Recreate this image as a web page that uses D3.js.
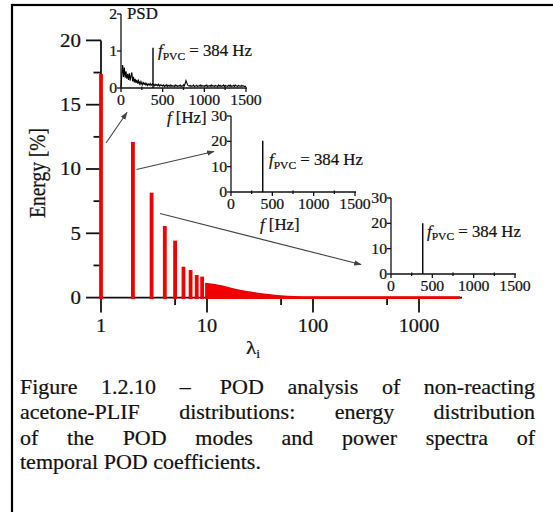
<!DOCTYPE html>
<html><head><meta charset="utf-8">
<script src="https://cdn.jsdelivr.net/npm/d3@7"></script>
<style>body{margin:0;background:#fff} svg{display:block} text{font-family:"Liberation Serif","Times New Roman",serif;fill:#111;stroke:#111;stroke-width:0.22px}</style>
</head><body><svg id="c" width="553" height="512"></svg>
<script>
// ---------------- data ----------------
const modes = [1, 2, 3, 4, 5, 6, 7, 8, 9];
const modeEnergy = [17.4, 12.1, 8.16, 5.57, 4.43, 2.4, 2.15, 1.76, 1.63];
const tailModes = [10, 11, 12, 13, 15, 18, 22, 27, 32, 40, 52, 70, 100, 150, 300, 1000, 2546];
const tailEnergy = [1.16, 1.12, 1.07, 1.02, 0.92, 0.75, 0.6, 0.48, 0.38, 0.28, 0.18, 0.13, 0.1, 0.1, 0.1, 0.1, 0.1];
const yTicks = [0, 5, 10, 15, 20];
const yMinor = [2.5, 7.5, 12.5, 17.5];
const xTicks = [1, 10, 100, 1000];
const xMinor = [5, 50, 500];
const psdFreq = d3.range(0, 1501, 10);
const psdValues = [
  0.02,0.35,0.62,0.3,0.55,0.28,0.45,0.25,0.38,0.22,0.4,0.2,0.33,0.42,0.18,0.3,0.15,0.25,0.14,0.22,
  0.12,0.2,0.11,0.17,0.1,0.16,0.09,0.14,0.1,0.13,0.08,0.12,0.07,0.11,0.08,0.12,0.07,0.1,0.12,0.09,
  0.06,0.1,0.07,0.09,0.06,0.1,0.05,0.09,0.06,0.08,0.05,0.08,0.04,0.07,0.05,0.09,0.04,0.07,0.05,0.08,
  0.04,0.07,0.05,0.06,0.04,0.08,0.05,0.07,0.04,0.06,0.05,0.08,0.04,0.06,0.05,0.09,0.06,0.12,0.2,0.14,
  0.08,0.06,0.05,0.07,0.04,0.06,0.05,0.08,0.04,0.06,0.05,0.07,0.04,0.06,0.05,0.08,0.04,0.07,0.05,0.06,
  0.04,0.07,0.05,0.08,0.04,0.06,0.05,0.07,0.04,0.08,0.05,0.06,0.04,0.07,0.05,0.06,0.04,0.08,0.05,0.07,
  0.04,0.06,0.05,0.08,0.04,0.07,0.05,0.06,0.04,0.07,0.05,0.08,0.04,0.06,0.05,0.07,0.04,0.08,0.05,0.06,
  0.04,0.07,0.05,0.06,0.04,0.07,0.05,0.06,0.04,0.05,0.03];
const pvcFreq = 384;
const pvcPeak = [1.09, 20.2, 20.0];
const insetYMax = [2, 30, 30];
const insetYTicks = [[0, 1, 2], [0, 10, 20, 30], [0, 10, 20, 30]];
const insetXTicks = [0, 500, 1000, 1500];
const insetXMinor = [250, 750, 1250];
const captionLines = [
  ["Figure", "1.2.10", "–\u00a0", "POD", "analysis", "of", "non-reacting"],
  ["acetone-PLIF", "distributions:", "energy", "distribution"],
  ["of", "the", "POD", "modes", "and", "power", "spectra", "of"],
  ["temporal", "POD", "coefficients."]
];

// ---------------- layout ----------------
const svg = d3.select("#c");
const RED = "#f00000";
const x = d3.scaleLog().domain([1, 1000]).range([101, 419]);
const y = d3.scaleLinear().domain([0, 20]).range([297.6, 40.4]);

// frame
svg.append("rect").attr("x", 12).attr("y", 5).attr("width", 700).attr("height", 700)
  .attr("fill", "none").attr("stroke", "#000").attr("stroke-width", 2.2);

function stext(g, str, px, py, size, k, anchor) {
  const t = g.append("text").attr("transform", `translate(${px},${py}) scale(${k},1)`)
    .attr("font-size", size).attr("text-anchor", anchor || "start");
  if (str !== null) t.text(str);
  return t;
}

// main axes
const ax = svg.append("g").attr("stroke", "#111").attr("stroke-width", 1.8);
ax.append("line").attr("x1", x(1)).attr("x2", x(1)).attr("y1", y(0)).attr("y2", y(20));
ax.append("line").attr("x1", x(1)).attr("x2", x(2546)).attr("y1", y(0)).attr("y2", y(0));
ax.selectAll(".yt").data(yTicks).join("line").attr("x1", x(1) - 15).attr("x2", x(1)).attr("y1", d => y(d)).attr("y2", d => y(d));
ax.selectAll(".ym").data(yMinor).join("line").attr("x1", x(1) - 7.5).attr("x2", x(1)).attr("y1", d => y(d)).attr("y2", d => y(d));
ax.selectAll(".xt").data(xTicks).join("line").attr("x1", d => x(d)).attr("x2", d => x(d)).attr("y1", y(0)).attr("y2", y(0) + 15);
ax.selectAll(".xm").data(xMinor).join("line").attr("x1", d => x(d)).attr("x2", d => x(d)).attr("y1", y(0)).attr("y2", y(0) + 7.5);

const lab = svg.append("g");
yTicks.forEach(d => stext(lab, String(d), 81, y(d) + 6.2, 19, 1.1, "end"));
xTicks.forEach(d => stext(lab, String(d), x(d), 332, 18.5, 1.1, "middle"));
// axis titles
lab.append("text").attr("transform", `translate(45,173) scale(1.15,1) rotate(-90)`).attr("font-size", 19.5)
  .attr("text-anchor", "middle").text("Energy [%]");
const lt = stext(lab, null, 253, 354, 19.5, 1.1, "middle");
lt.append("tspan").text("λ");
lt.append("tspan").attr("font-size", 12.5).attr("dy", 4).text("i");

// bars
const bw = 3.8;
svg.append("g").selectAll("rect").data(modes).join("rect")
  .attr("x", (d) => x(d) - bw / 2).attr("width", bw)
  .attr("y", (d, i) => y(modeEnergy[i])).attr("height", (d, i) => y(0) - y(modeEnergy[i]) + 1.5)
  .attr("fill", RED);
const tail = tailModes.map((m, i) => [m, tailEnergy[i]]);
svg.append("path").datum(tail)
  .attr("d", d3.area().x(d => x(d[0])).y0(y(0) + 1.5).y1(d => y(d[1])).curve(d3.curveMonotoneX))
  .attr("fill", RED).attr("transform", `translate(${-bw/2},0)`);

// arrows
const defs = svg.append("defs");
defs.append("marker").attr("id", "ah").attr("viewBox", "0 0 10 10").attr("refX", 9).attr("refY", 5)
  .attr("markerWidth", 7).attr("markerHeight", 7).attr("orient", "auto-start-reverse")
  .append("path").attr("d", "M0,1.5 L10,5 L0,8.5 z").attr("fill", "#444");
const arrows = [[106, 143, 127, 112.5], [136.5, 169.5, 214, 151.5], [160, 213.5, 361, 264.5]];
svg.append("g").selectAll("line").data(arrows).join("line")
  .attr("x1", d => d[0]).attr("y1", d => d[1]).attr("x2", d => d[2]).attr("y2", d => d[3])
  .attr("stroke", "#444").attr("stroke-width", 1.1).attr("marker-end", "url(#ah)");

// insets
const insets = [
  {x0: 121, x1: 246, yb: 88, yt: 14},
  {x0: 231, x1: 355, yb: 192, yt: 116},
  {x0: 391, x1: 515, yb: 274, yt: 198}
];
insets.forEach((c, idx) => {
  const g = svg.append("g");
  const fx = d3.scaleLinear().domain([0, 1500]).range([c.x0, c.x1]);
  const fy = d3.scaleLinear().domain([0, insetYMax[idx]]).range([c.yb, c.yt]);
  const a = g.append("g").attr("stroke", "#111").attr("stroke-width", 1.3);
  a.append("line").attr("x1", fx(0)).attr("x2", fx(0)).attr("y1", fy(0)).attr("y2", fy(insetYMax[idx]));
  a.append("line").attr("x1", fx(0)).attr("x2", fx(1500) + 1).attr("y1", fy(0)).attr("y2", fy(0));
  a.selectAll(".t").data(insetYTicks[idx]).join("line").attr("x1", fx(0) - 4).attr("x2", fx(0)).attr("y1", d => fy(d)).attr("y2", d => fy(d));
  a.selectAll(".xt").data(insetXTicks).join("line").attr("x1", d => fx(d)).attr("x2", d => fx(d)).attr("y1", fy(0)).attr("y2", fy(0) + 4);
  a.selectAll(".xm").data(insetXMinor).join("line").attr("x1", d => fx(d)).attr("x2", d => fx(d)).attr("y1", fy(0) - 1.5).attr("y2", fy(0) + 2);
  insetYTicks[idx].forEach(d => stext(g, String(d), fx(0) - 4, fy(d) + 5, 15, 1.05, "end"));
  insetXTicks.forEach(d => stext(g, String(d), fx(d), fy(0) + 17, 15, 1.05, "middle"));
  if (idx === 0) {
    g.append("path").datum(psdFreq.map((f, i) => [f, psdValues[i]]))
      .attr("d", d3.line().x(d => fx(d[0])).y(d => fy(d[1])))
      .attr("fill", "none").attr("stroke", "#000").attr("stroke-width", 1.1);
    stext(g, "PSD", fx(0) + 6, fy(2) + 5, 16, 1.05, "start");
  }
  g.append("line").attr("x1", fx(pvcFreq)).attr("x2", fx(pvcFreq)).attr("y1", fy(0)).attr("y2", fy(pvcPeak[idx]))
    .attr("stroke", "#000").attr("stroke-width", 1.4);
  const lx = [158, 269, 427][idx], ly = [56, 165, 236.5][idx];
  const t = stext(g, null, lx, ly, 16, 1.05, "start");
  t.append("tspan").attr("font-style", "italic").text("f");
  t.append("tspan").attr("font-size", 11).attr("dy", 3.5).text("PVC");
  t.append("tspan").attr("dy", -3.5).text(" = 384 Hz");
  if (idx < 2) {
    const hx = [167, 260][idx], hy = [123, 230][idx];
    const h = stext(g, null, hx, hy, 16, 1.05, "start");
    h.append("tspan").attr("font-style", "italic").text("f");
    h.append("tspan").text(" [Hz]");
  }
});

// caption (justified)
const capY = [394, 419, 445, 469];
const capG = svg.append("g");
const capK = 1.0, capSize = 22;
captionLines.forEach((words, li) => {
  const nodes = words.map(w => capG.append("text").attr("font-size", capSize).text(w));
  const widths = nodes.map(n => n.node().getComputedTextLength() * capK);
  const total = d3.sum(widths);
  const last = li === captionLines.length - 1;
  const gap = last ? 0.25 * capSize : (535 - 20 - total) / (words.length - 1);
  let cx = 20;
  nodes.forEach((n, i) => {
    n.attr("transform", `translate(${cx},${capY[li]}) scale(${capK},1)`);
    cx += widths[i] + gap;
  });
});
</script></body></html>
